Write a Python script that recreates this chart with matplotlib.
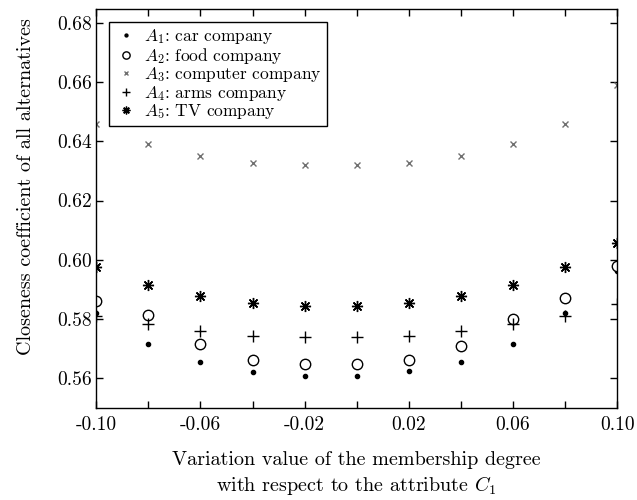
import matplotlib
matplotlib.use("Agg")
import matplotlib.pyplot as plt

plt.rcParams['font.family'] = 'serif'
plt.rcParams['font.serif'] = ['cmr10', 'DejaVu Serif']
plt.rcParams['mathtext.fontset'] = 'cm'
plt.rcParams['axes.unicode_minus'] = False
plt.rcParams['axes.formatter.use_mathtext'] = True

x_values = [-0.10, -0.08, -0.06, -0.04, -0.02, 0.00, 0.02, 0.04, 0.06, 0.08, 0.10]
a1_car = [0.5818, 0.5714, 0.5654, 0.5621, 0.5607, 0.5607, 0.5624, 0.5654, 0.5714, 0.5821, 0.5963]
a2_food = [0.5861, 0.5812, 0.5716, 0.5661, 0.5648, 0.5648, 0.5661, 0.5707, 0.5799, 0.5870, 0.5977]
a3_computer = [0.6458, 0.6390, 0.6350, 0.6327, 0.6320, 0.6320, 0.6327, 0.6350, 0.6390, 0.6458, 0.6592]
a4_arms = [0.5808, 0.5782, 0.5759, 0.5742, 0.5738, 0.5738, 0.5742, 0.5759, 0.5782, 0.5810, 0.5851]
a5_tv = [0.5974, 0.5914, 0.5878, 0.5853, 0.5842, 0.5842, 0.5854, 0.5878, 0.5914, 0.5974, 0.6055]

labels = [r'$A_1$: car company', r'$A_2$: food company', r'$A_3$: computer company',
          r'$A_4$: arms company', r'$A_5$: TV company']
x_tick_labels = ['-0.10', '', '-0.06', '', '-0.02', '', '0.02', '', '0.06', '', '0.10']
y_ticks = [0.56, 0.58, 0.60, 0.62, 0.64, 0.66, 0.68]

fig = plt.figure(figsize=(6.37, 5.0), dpi=100)
ax = fig.add_axes([0.151, 0.184, 0.818, 0.798])

ax.plot(x_values, a1_car, linestyle='none', marker='o', markersize=3, color='black', label=labels[0])
ax.plot(x_values, a2_food, linestyle='none', marker='o', markersize=7.5, markerfacecolor='white',
        markeredgecolor='black', markeredgewidth=1.0, label=labels[1])
ax.plot(x_values, a3_computer, linestyle='none', marker='x', markersize=5, color='#707070',
        markeredgewidth=1.0, label=labels[2])
ax.plot(x_values, a4_arms, linestyle='none', marker='+', markersize=8, color='black',
        markeredgewidth=1.0, label=labels[3])
ax.plot(x_values, a5_tv, linestyle='none', marker=(8, 2, 0), markersize=8, color='black',
        markeredgewidth=1.0, label=labels[4])

ax.set_xlim(-0.10, 0.10)
ax.set_ylim(0.5498, 0.6848)
ax.set_xticks(x_values)
ax.set_xticklabels(x_tick_labels)
ax.set_yticks(y_ticks)
ax.set_yticklabels(['%.2f' % v for v in y_ticks])
ax.tick_params(direction='in', length=5, width=1, top=True, right=True, labelsize=14)
ax.tick_params(axis='x', pad=6)
ax.tick_params(axis='y', pad=3)

for s in ax.spines.values():
    s.set_linewidth(1.0)

ax.set_ylabel('Closeness coefficient of all alternatives', fontsize=14.5)
ax.yaxis.set_label_coords(-0.117, 0.554)
ax.set_xlabel('Variation value of the membership degree\nwith respect to the attribute $C_1$',
              fontsize=14.5, labelpad=12, linespacing=1.3)

leg = ax.legend(loc='upper left', fontsize=12.5, frameon=True, fancybox=False, edgecolor='black',
                framealpha=1, borderpad=0.3, labelspacing=-0.03, handlelength=1.3,
                handletextpad=0.4, borderaxespad=0.75, markerscale=0.7)
leg.get_frame().set_linewidth(1.0)

fig.savefig('out.png', dpi=100)
